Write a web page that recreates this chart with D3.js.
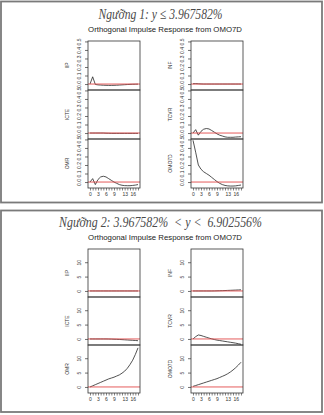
<!DOCTYPE html>
<html><head><meta charset="utf-8">
<script src="https://cdn.jsdelivr.net/npm/d3@7"></script>
<style>
html,body{margin:0;padding:0;background:#fff;}
svg{display:block;}
</style></head>
<body>
<script>
// ---------- DATA ----------
const horizons = [0,1,2,3,4,5,6,7,8,9,10,11,12,13,14,15,16,17,18];
const xTickLabels = [0,3,6,9,13,16];
const leftVars = ["IIP","ICTE","OMR"];
const rightVars = ["INF","TCVR","OMO7D"];

const title1 = "Ngưỡng 1: y ≤ 3.967582%";
const title2 = "Ngưỡng 2: 3.967582%  < y <  6.902556%";
const subtitle = "Orthogonal Impulse Response from OMO7D";

const yTicks1 = [0, 0.1, 0.2, 0.3, 0.4, 0.5];
const yTickLabels1 = ["0.0","0.1","0.2","0.3","0.4","0.5"];
const yTicks2 = [0, 5, 10];
const yTickLabels2 = ["0","5","10"];

// Threshold 1 responses
const r1_IIP   = [0, 0.085, -0.005, -0.010, -0.012, -0.014, -0.015, -0.016, -0.016, -0.015, -0.014, -0.012, -0.010, -0.008, -0.006, -0.004, -0.003, -0.002, -0.001];
const r1_INF   = [0.004, 0.005, 0.003, 0.001, 0, 0, 0, 0, 0, 0, 0, 0, 0, 0, 0, 0, 0, 0, 0];
const r1_ICTE  = [0, 0, 0, 0, 0, 0, -0.002, -0.003, -0.004, -0.004, -0.004, -0.004, -0.004, -0.004, -0.004, -0.004, -0.004, -0.004, -0.004];
const r1_TCVR  = [0, 0.040, -0.025, 0.020, 0.045, 0.053, 0.048, 0.030, 0.010, -0.010, -0.025, -0.035, -0.045, -0.050, -0.050, -0.050, -0.047, -0.045, -0.043];
const r1_OMR   = [0, 0.040, -0.030, 0.030, 0.060, 0.068, 0.060, 0.040, 0.020, 0.000, -0.015, -0.030, -0.038, -0.042, -0.043, -0.043, -0.040, -0.036, -0.030];
const r1_OMO7D = [0.49, 0.35, 0.20, 0.15, 0.12, 0.10, 0.08, 0.055, 0.030, 0.005, -0.015, -0.030, -0.040, -0.045, -0.047, -0.047, -0.045, -0.040, -0.035];

// Threshold 2 responses
const r2_IIP   = [0, 0, 0, 0, 0, 0, 0, 0, 0, 0, 0, 0, 0, 0, 0, 0, 0, 0, 0];
const r2_INF   = [0, 0, 0, 0, 0, 0, 0, 0, 0.02, 0.05, 0.08, 0.11, 0.15, 0.19, 0.23, 0.27, 0.31, 0.35, 0.40];
const r2_ICTE  = [0, 0, 0, 0, 0, 0, 0, -0.02, -0.05, -0.09, -0.13, -0.18, -0.23, -0.29, -0.35, -0.41, -0.47, -0.53, -0.60];
const r2_TCVR  = [0, 0.8, 1.4, 1.2, 0.9, 0.6, 0.3, 0.05, -0.2, -0.4, -0.55, -0.7, -0.85, -1.0, -1.15, -1.3, -1.45, -1.65, -1.85];
const r2_OMR   = [0, 0.4, 0.8, 1.2, 1.6, 2.0, 2.4, 2.8, 3.1, 3.4, 3.8, 4.2, 4.8, 5.5, 6.5, 7.8, 9.3, 11.3, 13.6];
const r2_OMO7D = [0.2, 0.5, 0.8, 1.1, 1.4, 1.7, 2.0, 2.3, 2.6, 2.9, 3.3, 3.7, 4.1, 4.6, 5.2, 5.9, 6.7, 7.6, 8.6];

// ---------- DRAW ----------
const W = 324, H = 415;
const svg = d3.select("body").append("svg").attr("width", W).attr("height", H);

const blocks = [
  {top: 0, boxTop: 1.5, boxBot: 202.5, title: title1, titleLen: 124,
   yDomain: [-0.07, 0.505], yTicks: yTicks1, yTickLabels: yTickLabels1, ph: 49,
   left: [r1_IIP, r1_ICTE, r1_OMR], right: [r1_INF, r1_TCVR, r1_OMO7D]},
  {top: 208, boxTop: 210.5, boxBot: 412, title: title2, titleLen: 203,
   yDomain: [-2.1, 14.6], yTicks: yTicks2, yTickLabels: yTickLabels2, ph: 48,
   left: [r2_IIP, r2_ICTE, r2_OMR], right: [r2_INF, r2_TCVR, r2_OMO7D]}
];

const cols = [{x0: 88, names: leftVars, key: "left"}, {x0: 191, names: rightVars, key: "right"}];
const PW = 52;

blocks.forEach(b => {
  const g = svg.append("g").attr("transform", `translate(0,${b.top})`);
  // outer frame
  svg.append("rect").attr("x", 1).attr("y", b.boxTop).attr("width", 321).attr("height", b.boxBot - b.boxTop)
    .attr("fill", "none").attr("stroke", "#7a7a7a").attr("stroke-width", 1.8);

  g.append("text").attr("x", 160.5).attr("y", 18.5).attr("text-anchor", "middle")
    .attr("textLength", b.titleLen).attr("lengthAdjust", "spacingAndGlyphs")
    .style("font-family", "'Liberation Serif','Times New Roman',serif").style("font-style", "italic")
    .style("font-size", "15px").style("fill", "#4a4a4a").style("white-space", "pre")
    .text(b.title);

  g.append("text").attr("x", 165).attr("y", 31.5).attr("text-anchor", "middle")
    .style("font-family", "'Liberation Sans',Arial,sans-serif").style("font-size", "7.8px").style("fill", "#222")
    .text(subtitle);

  const panelTop = 41;
  cols.forEach(c => {
    const x = d3.scaleLinear().domain([horizons[0], horizons[horizons.length-1]]).range([c.x0 + 2, c.x0 + PW - 2]);
    b[c.key].forEach((series, i) => {
      const py = panelTop + i * b.ph;
      const y = d3.scaleLinear().domain(b.yDomain).range([py + b.ph, py]);
      const pg = g.append("g");
      const line = d3.line().x((d, j) => x(horizons[j])).y(d => y(d));
      pg.append("path").datum(series).attr("d", line).attr("fill", "none")
        .attr("stroke", "#262626").attr("stroke-width", 0.8);
      pg.append("line").attr("x1", c.x0).attr("x2", c.x0 + PW).attr("y1", y(0)).attr("y2", y(0))
        .attr("stroke", "#e24a4a").attr("stroke-width", 0.9);
      pg.append("rect").attr("x", c.x0).attr("y", py).attr("width", PW).attr("height", b.ph)
        .attr("fill", "none").attr("stroke", "#333").attr("stroke-width", 0.8);
      const ax = d3.axisLeft(y).tickValues(b.yTicks).tickFormat((d, k) => b.yTickLabels[k]).tickSize(3).tickPadding(1);
      const ag = pg.append("g").attr("transform", `translate(${c.x0},0)`).call(ax);
      ag.select(".domain").remove();
      ag.selectAll(".tick line").attr("stroke", "#333").attr("stroke-width", 0.7);
      ag.selectAll(".tick text").attr("x", null).attr("dy", null)
        .attr("transform", "translate(-9.5,0) rotate(-90)")
        .attr("text-anchor", "middle").attr("dominant-baseline", "central")
        .style("font-family", "'Liberation Sans',Arial,sans-serif").style("font-size", "5px").style("fill", "#333");
      pg.append("text").attr("transform", `translate(${c.x0 - 21},${py + b.ph / 2}) rotate(-90)`)
        .attr("text-anchor", "middle").attr("dominant-baseline", "central")
        .style("font-family", "'Liberation Sans',Arial,sans-serif").style("font-size", "5px").style("fill", "#333")
        .text(c.names[i]);
    });
    const by = panelTop + 3 * b.ph;
    const xa = d3.axisBottom(x).tickValues(horizons).tickFormat(d => xTickLabels.includes(d) ? d : "").tickSize(2.5).tickPadding(2);
    const xg = g.append("g").attr("transform", `translate(0,${by})`).call(xa);
    xg.select(".domain").remove();
    xg.selectAll(".tick line").attr("stroke", "#333").attr("stroke-width", 0.6);
    xg.selectAll(".tick text").style("font-family", "'Liberation Sans',Arial,sans-serif").style("font-size", "5px").style("fill", "#333");
  });
});
</script>
</body></html>
